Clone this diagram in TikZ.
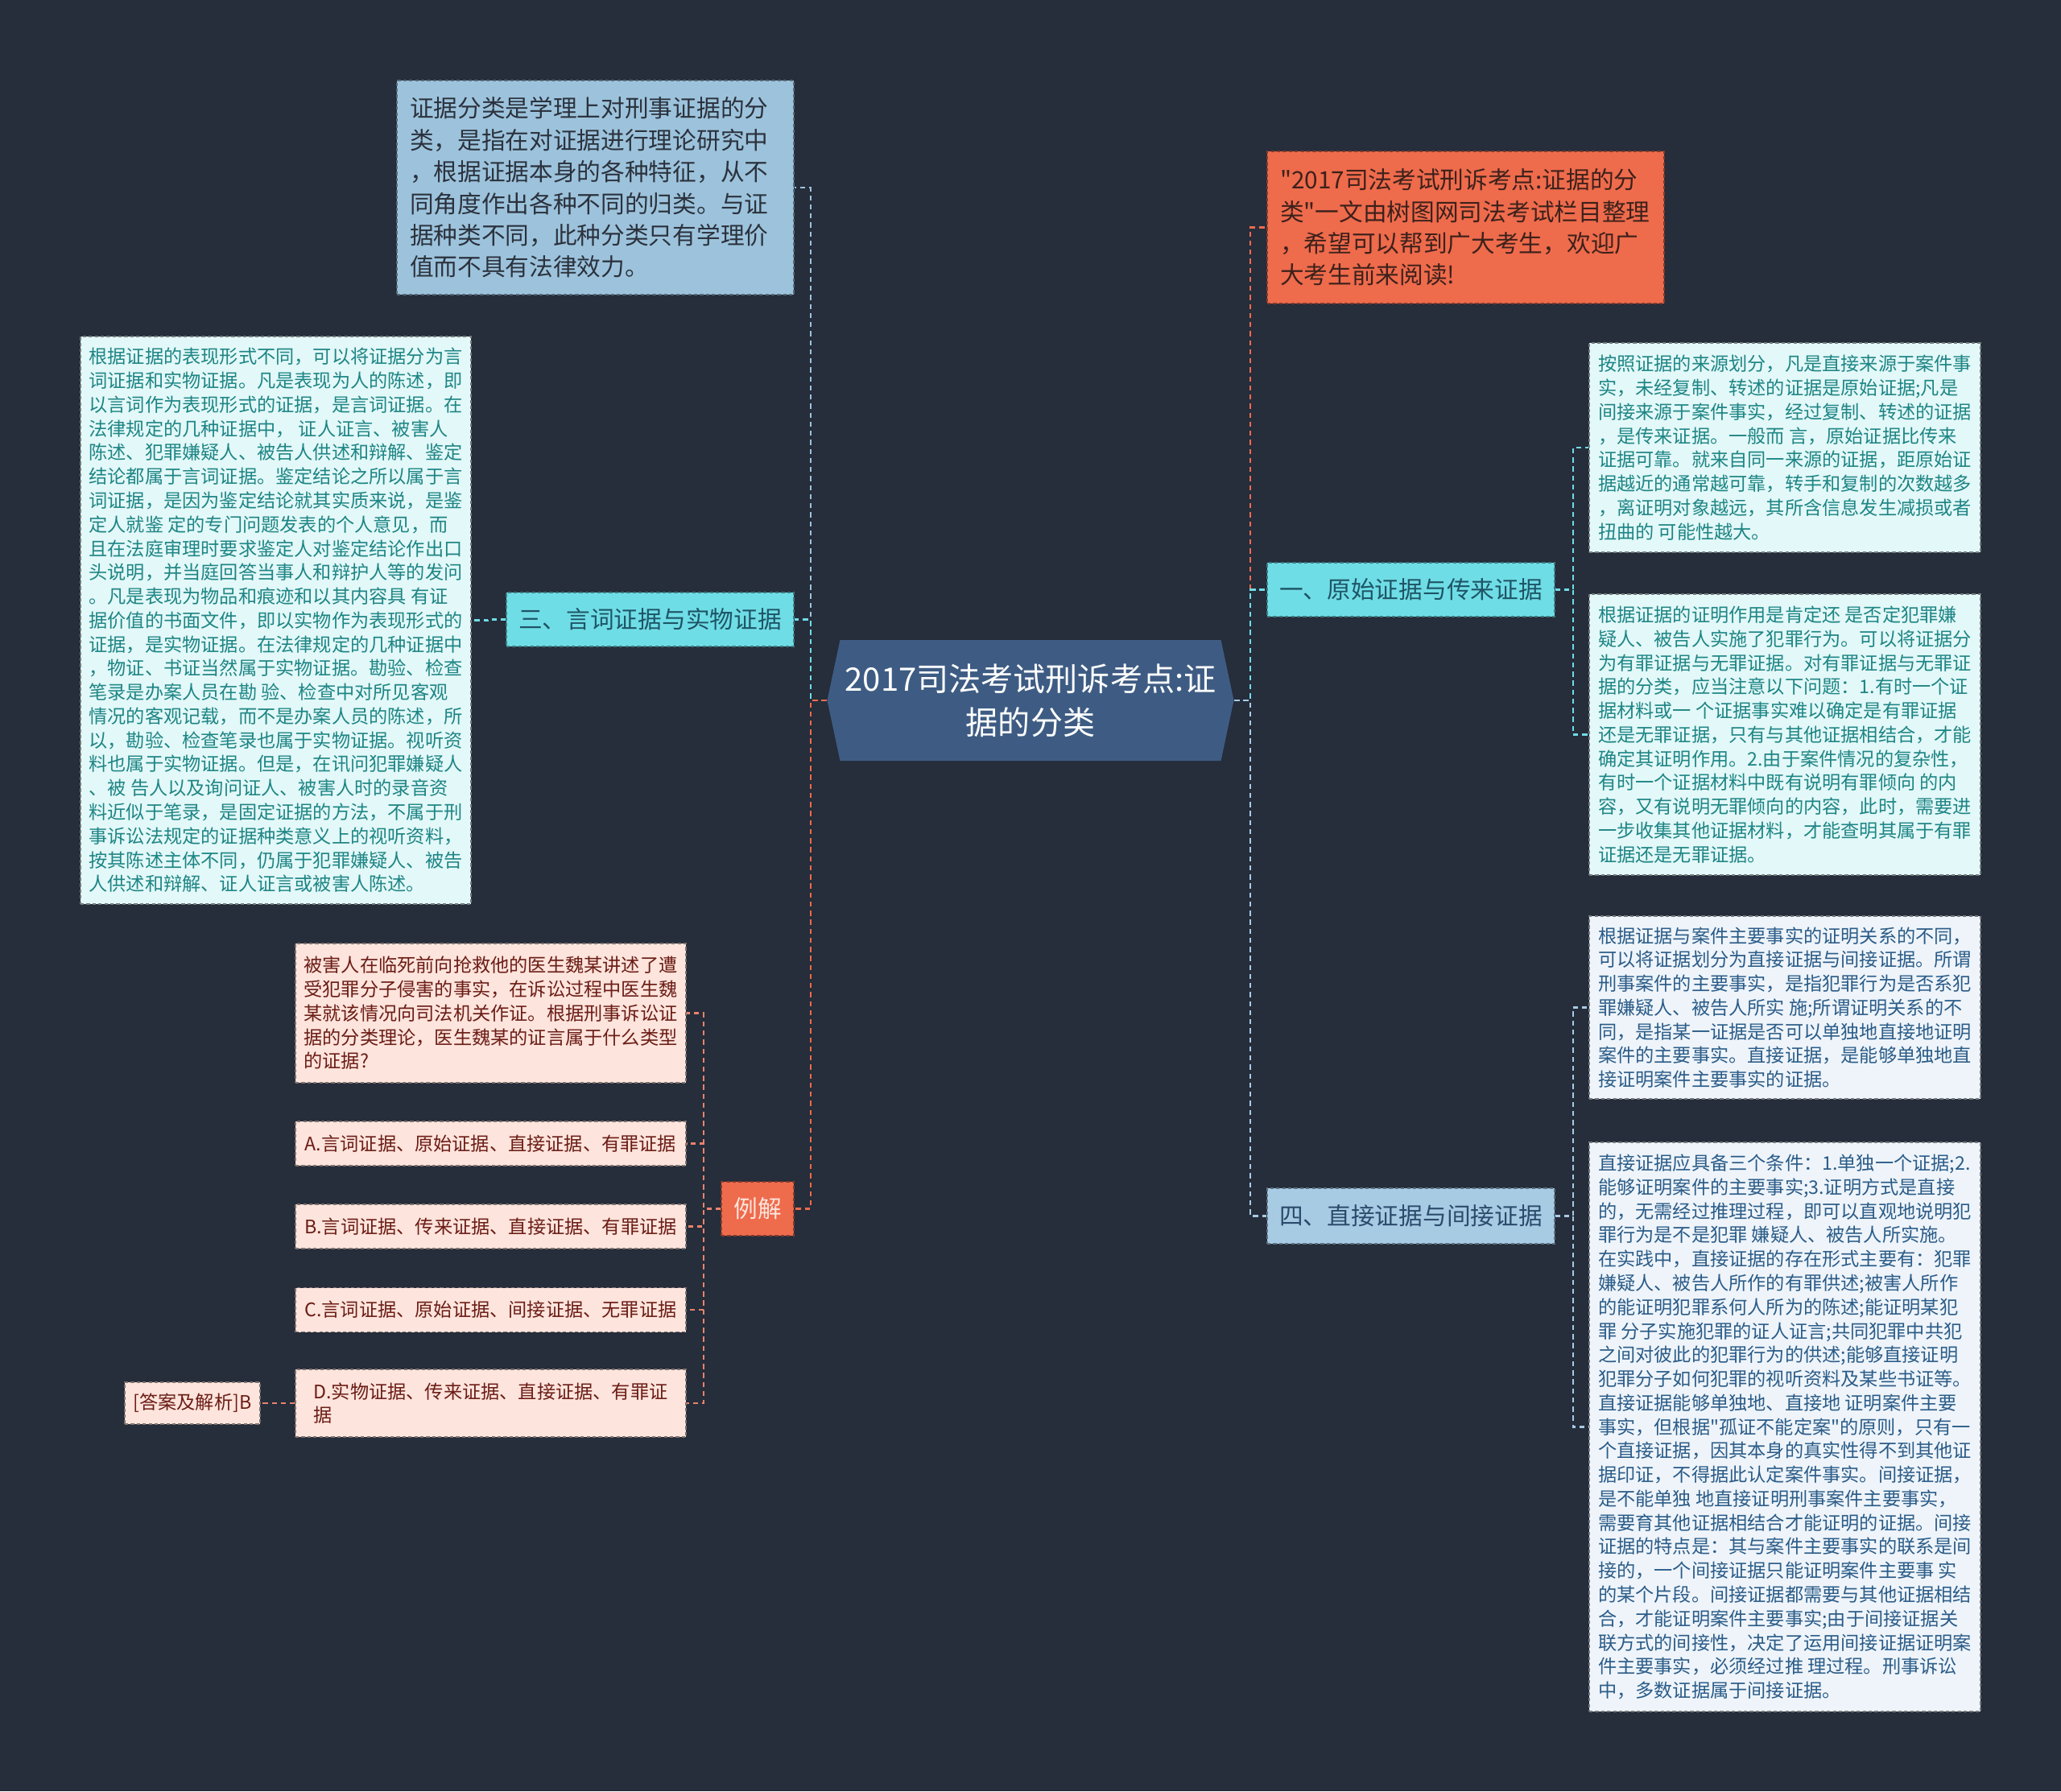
\documentclass[tikz,border=0pt]{standalone}
\usepackage{fontspec}
\setmainfont{Noto Sans CJK SC}[Ligatures=TeXOff]
\usetikzlibrary{shapes.symbols}

\definecolor{bgnavy}{HTML}{262D3B}
\definecolor{rootblue}{HTML}{3E5C83}
\definecolor{steelfill}{HTML}{9DC3DC}
\definecolor{steelink}{HTML}{2B323D}
\definecolor{tomatofill}{HTML}{EE6B4C}
\definecolor{tomatoink}{HTML}{3D211B}
\definecolor{cyanfill}{HTML}{6FDDE6}
\definecolor{cyanink}{HTML}{1E5566}
\definecolor{skyfill}{HTML}{A8CBE4}
\definecolor{skyink}{HTML}{2C4B6C}
\definecolor{mintfill}{HTML}{E3F8F8}
\definecolor{mintink}{HTML}{1E8585}
\definecolor{icefill}{HTML}{EEF4FA}
\definecolor{iceink}{HTML}{2B5C88}
\definecolor{blushfill}{HTML}{FDE4DC}
\definecolor{blushink}{HTML}{6B1D16}
\definecolor{salmonline}{HTML}{E8836C}

\newcommand\smallfont{\fontsize{6.6}{8.47}\selectfont}
\newcommand\midfont{\fontsize{8.45}{11.2}\selectfont}
\newcommand\rootfont{\fontsize{11.4}{15.4}\selectfont}

\tikzset{
  card/.style={inner sep=0pt, align=left, line width=0.35pt, dash pattern=on 1.2pt off 0.9pt},
  steelbox/.style={card, fill=steelfill, draw=steelfill!55!black, text=steelink, font=\midfont},
  tomatobox/.style={card, fill=tomatofill, draw=tomatofill!55!black, text=tomatoink, font=\midfont},
  cyantag/.style={card, fill=cyanfill, draw=cyanfill!55!black, text=cyanink, font=\midfont, minimum height=0.67cm},
  skytag/.style={card, fill=skyfill, draw=skyfill!55!black, text=skyink, font=\midfont, minimum height=0.69cm},
  tomatotag/.style={card, fill=tomatofill, draw=tomatofill!55!black, text=blushfill, font=\midfont, minimum height=0.67cm},
  mintbox/.style={card, fill=mintfill, draw=mintfill!50!black, text=mintink, font=\smallfont, minimum width=4.86cm},
  icebox/.style={card, fill=icefill, draw=icefill!50!black, text=iceink, font=\smallfont, minimum width=4.86cm},
  blushbox/.style={card, fill=blushfill, draw=blushfill!50!black, text=blushink, font=\smallfont, minimum width=4.85cm},
  link/.style={line width=0.6pt, dash pattern=on 1.8pt off 1.4pt},
  lncyan/.style={link, draw=cyanfill},
  lnsky/.style={link, draw=skyfill},
  lnsteel/.style={link, draw=steelfill},
  lntomato/.style={link, draw=tomatofill},
  lnsalmon/.style={link, draw=salmonline}
}

\begin{document}
\begin{tikzpicture}[y=-1cm]
  \fill[bgnavy] (0,0) rectangle (25.60,22.25);
  \useasboundingbox (0,0) rectangle (25.60,22.25);

  % centre
  \node[signal, signal to=west and east, signal pointer angle=156, minimum width=5.05cm,
        minimum height=1.50cm, inner sep=0pt, fill=rootblue, text=white, font=\rootfont,
        align=center] (root) at (12.80,8.70) {2017司法考试刑诉考点:证\\据的分类};

  % left side
  \node[steelbox, minimum width=4.93cm, minimum height=2.66cm, text width=4.61cm] (intro) at (7.395,2.33) {%
证据分类是学理上对刑事证据的分\\%
类，是指在对证据进行理论研究中\\%
，根据证据本身的各种特征，从不\\%
同角度作出各种不同的归类。与证\\%
据种类不同，此种分类只有学理价\\%
值而不具有法律效力。};

  \node[cyantag, minimum width=3.57cm] (verbal) at (8.075,7.695) {三、言词证据与实物证据};

  \node[mintbox, minimum width=4.85cm, minimum height=7.05cm] (verbaltxt) at (3.425,7.705) {%
根据证据的表现形式不同，可以将证据分为言\\%
词证据和实物证据。凡是表现为人的陈述，即\\%
以言词作为表现形式的证据，是言词证据。在\\%
法律规定的几种证据中， 证人证言、被害人\\%
陈述、犯罪嫌疑人、被告人供述和辩解、鉴定\\%
结论都属于言词证据。鉴定结论之所以属于言\\%
词证据，是因为鉴定结论就其实质来说，是鉴\\%
定人就鉴 定的专门问题发表的个人意见，而\\%
且在法庭审理时要求鉴定人对鉴定结论作出口\\%
头说明，并当庭回答当事人和辩护人等的发问\\%
。凡是表现为物品和痕迹和以其内容具 有证\\%
据价值的书面文件，即以实物作为表现形式的\\%
证据，是实物证据。在法律规定的几种证据中\\%
，物证、书证当然属于实物证据。勘验、检查\\%
笔录是办案人员在勘 验、检查中对所见客观\\%
情况的客观记载，而不是办案人员的陈述，所\\%
以，勘验、检查笔录也属于实物证据。视听资\\%
料也属于实物证据。但是，在讯问犯罪嫌疑人\\%
、被 告人以及询问证人、被害人时的录音资\\%
料近似于笔录，是固定证据的方法，不属于刑\\%
事诉讼法规定的证据种类意义上的视听资料，\\%
按其陈述主体不同，仍属于犯罪嫌疑人、被告\\%
人供述和辩解、证人证言或被害人陈述。};

  \node[tomatotag, minimum width=0.90cm] (example) at (9.41,15.015) {例解};

  \node[blushbox, minimum height=1.73cm] (question) at (6.095,12.585) {%
被害人在临死前向抢救他的医生魏某讲述了遭\\%
受犯罪分子侵害的事实，在诉讼过程中医生魏\\%
某就该情况向司法机关作证。根据刑事诉讼证\\%
据的分类理论，医生魏某的证言属于什么类型\\%
的证据?};
  \node[blushbox, minimum height=0.55cm] (optA) at (6.095,14.205) {A.言词证据、原始证据、直接证据、有罪证据};
  \node[blushbox, minimum height=0.55cm] (optB) at (6.095,15.235) {B.言词证据、传来证据、直接证据、有罪证据};
  \node[blushbox, minimum height=0.55cm] (optC) at (6.095,16.27) {C.言词证据、原始证据、间接证据、无罪证据};
  \node[blushbox, minimum height=0.84cm] (optD) at (6.095,17.43) {D.实物证据、传来证据、直接证据、有罪证\\据};
  \node[blushbox, minimum width=1.68cm, minimum height=0.52cm] (answer) at (2.39,17.43) {[答案及解析]B};

  % right side
  \node[tomatobox, minimum width=4.93cm, minimum height=1.89cm, text width=4.61cm] (note) at (18.205,2.825) {%
"2017司法考试刑诉考点:证据的分\\%
类"一文由树图网司法考试栏目整理\\%
，希望可以帮到广大考生，欢迎广\\%
大考生前来阅读!};

  \node[cyantag, minimum width=3.57cm] (origin) at (17.525,7.325) {一、原始证据与传来证据};

  \node[mintbox, minimum height=2.60cm] (origintxt) at (22.17,5.56) {%
按照证据的来源划分，凡是直接来源于案件事\\%
实，未经复制、转述的证据是原始证据;凡是\\%
间接来源于案件事实，经过复制、转述的证据\\%
，是传来证据。一般而 言，原始证据比传来\\%
证据可靠。就来自同一来源的证据，距原始证\\%
据越近的通常越可靠，转手和复制的次数越多\\%
，离证明对象越远，其所含信息发生减损或者\\%
扭曲的 可能性越大。};

  \node[mintbox, minimum height=3.49cm] (guilttxt) at (22.17,9.125) {%
根据证据的证明作用是肯定还 是否定犯罪嫌\\%
疑人、被告人实施了犯罪行为。可以将证据分\\%
为有罪证据与无罪证据。对有罪证据与无罪证\\%
据的分类，应当注意以下问题：1.有时一个证\\%
据材料或一 个证据事实难以确定是有罪证据\\%
还是无罪证据，只有与其他证据相结合，才能\\%
确定其证明作用。2.由于案件情况的复杂性，\\%
有时一个证据材料中既有说明有罪倾向 的内\\%
容，又有说明无罪倾向的内容，此时，需要进\\%
一步收集其他证据材料，才能查明其属于有罪\\%
证据还是无罪证据。};

  \node[skytag, minimum width=3.57cm] (direct) at (17.525,15.105) {四、直接证据与间接证据};

  \node[icebox, minimum height=2.27cm] (directtxt) at (22.17,12.515) {%
根据证据与案件主要事实的证明关系的不同，\\%
可以将证据划分为直接证据与间接证据。所谓\\%
刑事案件的主要事实，是指犯罪行为是否系犯\\%
罪嫌疑人、被告人所实 施;所谓证明关系的不\\%
同，是指某一证据是否可以单独地直接地证明\\%
案件的主要事实。直接证据，是能够单独地直\\%
接证明案件主要事实的证据。};

  \node[icebox, minimum height=7.07cm] (indirecttxt) at (22.17,17.725) {%
直接证据应具备三个条件：1.单独一个证据;2.\\%
能够证明案件的主要事实;3.证明方式是直接\\%
的，无需经过推理过程，即可以直观地说明犯\\%
罪行为是不是犯罪 嫌疑人、被告人所实施。\\%
在实践中，直接证据的存在形式主要有：犯罪\\%
嫌疑人、被告人所作的有罪供述;被害人所作\\%
的能证明犯罪系何人所为的陈述;能证明某犯\\%
罪 分子实施犯罪的证人证言;共同犯罪中共犯\\%
之间对彼此的犯罪行为的供述;能够直接证明\\%
犯罪分子如何犯罪的视听资料及某些书证等。\\%
直接证据能够单独地、直接地 证明案件主要\\%
事实，但根据"孤证不能定案"的原则，只有一\\%
个直接证据，因其本身的真实性得不到其他证\\%
据印证，不得据此认定案件事实。间接证据，\\%
是不能单独 地直接证明刑事案件主要事实，\\%
需要育其他证据相结合才能证明的证据。间接\\%
证据的特点是：其与案件主要事实的联系是间\\%
接的，一个间接证据只能证明案件主要事 实\\%
的某个片段。间接证据都需要与其他证据相结\\%
合，才能证明案件主要事实;由于间接证据关\\%
联方式的间接性，决定了运用间接证据证明案\\%
件主要事实，必须经过推 理过程。刑事诉讼\\%
中，多数证据属于间接证据。};

  % connectors
  \draw[lnsteel] (root.west) -- ++(-0.20,0) |- (intro.east);
  \draw[lncyan] (root.west) -- ++(-0.20,0) |- (verbal.east);
  \draw[lntomato] (root.west) -- ++(-0.20,0) |- (example.east);
  \draw[lntomato] (root.east) -- ++(0.20,0) |- (note.west);
  \draw[lncyan] (root.east) -- ++(0.20,0) |- (origin.west);
  \draw[lnsky] (root.east) -- ++(0.20,0) |- (direct.west);

  \draw[lncyan] (verbal.west) -- ++(-0.22,0) |- (verbaltxt.east);
  \draw[lncyan] (origin.east) -- ++(0.22,0) |- (origintxt.west);
  \draw[lncyan] (origin.east) -- ++(0.22,0) |- (guilttxt.west);
  \draw[lnsky] (direct.east) -- ++(0.22,0) |- (directtxt.west);
  \draw[lnsky] (direct.east) -- ++(0.22,0) |- (indirecttxt.west);

  \foreach \opt in {question,optA,optB,optC,optD}
    \draw[lnsalmon] (example.west) -- ++(-0.21,0) |- (\opt.east);
  \draw[lnsalmon] (optD.west) -- (answer.east);
\end{tikzpicture}
\end{document}
